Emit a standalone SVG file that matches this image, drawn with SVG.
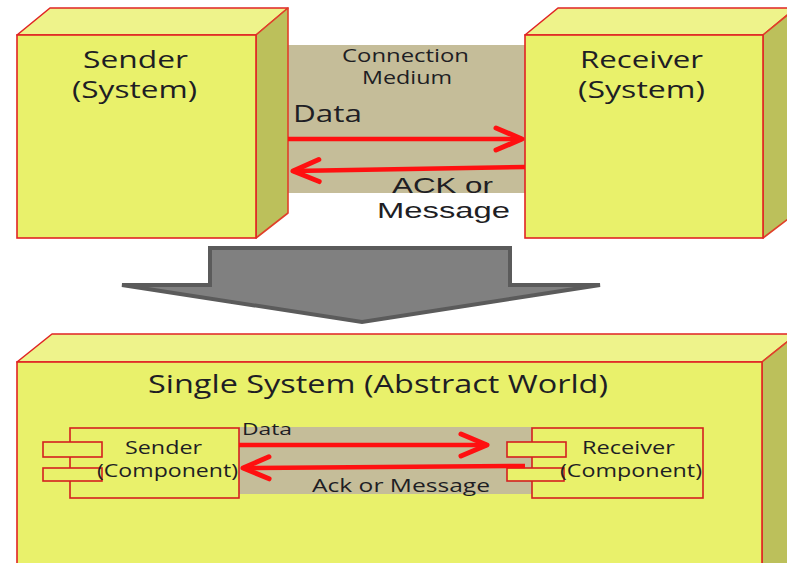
<svg xmlns="http://www.w3.org/2000/svg" width="787" height="563" viewBox="0 0 787 563">
<defs>
<style>
.front{fill:#e9f16b;stroke:#e02424;stroke-width:1.6}
.top{fill:#eef38b;stroke:#e02424;stroke-width:1.6;stroke-linejoin:round}
.side{fill:#bcc05b;stroke:#e0402a;stroke-width:1.6;stroke-linejoin:round}
.medium{fill:#c5bd99}
.comp{fill:#e9f16b;stroke:#d42020;stroke-width:1.6}
.t{font-family:"Open Sans","Noto Sans","Liberation Sans",sans-serif;fill:#1e1e24;text-anchor:middle}
.tl{font-family:"Liberation Sans","Open Sans",sans-serif;fill:#1e1e24;text-anchor:middle}
.link{stroke:#ff1010;stroke-width:4.5;fill:none}
.big{fill:#808080;stroke:#5b5b5b;stroke-width:4;stroke-linejoin:miter}
</style>
<marker id="head" markerUnits="userSpaceOnUse" viewBox="-30 -14 34 28" markerWidth="34" markerHeight="28" refX="0" refY="0" orient="auto" overflow="visible">
<path d="M-26,-11 L0,0 L-26,11" fill="none" stroke="#ff1010" stroke-width="5" stroke-linejoin="round" stroke-linecap="round"/>
</marker>
</defs>
<rect width="787" height="563" fill="#ffffff"/>

<g id="medium-top">
<rect class="medium" x="288" y="45" width="237" height="148"/>
<text class="t" x="405.5" y="62" font-size="17.5" textLength="127" lengthAdjust="spacingAndGlyphs">Connection</text>
<text class="t" x="407" y="84" font-size="17.5" textLength="90" lengthAdjust="spacingAndGlyphs">Medium</text>
</g>

<g id="sender-system">
<polygon class="top" points="17,35 50,8 288,8 256,35"/>
<polygon class="side" points="256,35 288,8 288,213 256,238"/>
<rect class="front" x="17" y="35" width="239" height="203"/>
<text class="t" x="135.5" y="68" font-size="24" textLength="105" lengthAdjust="spacingAndGlyphs">Sender</text>
<text class="t" x="134.5" y="98" font-size="24" textLength="125" lengthAdjust="spacingAndGlyphs">(System)</text>
</g>

<g id="receiver-system">
<polygon class="top" points="525,35 558,8 796,8 763,35"/>
<polygon class="side" points="763,35 796,8 796,213 763,238"/>
<rect class="front" x="525" y="35" width="238" height="203"/>
<text class="t" x="641.5" y="68" font-size="24" textLength="123" lengthAdjust="spacingAndGlyphs">Receiver</text>
<text class="t" x="641.5" y="98" font-size="24" textLength="127" lengthAdjust="spacingAndGlyphs">(System)</text>
</g>

<g id="transform-arrow">
<polygon class="big" points="122,285 210,285 210,248 510,248 510,285 600,285 362,322"/>
</g>

<g id="single-system">
<polygon class="top" points="17,362 52,334 797,334 762,362"/>
<polygon class="side" points="762,362 797,334 797,600 762,600"/>
<rect class="front" x="17" y="362" width="745" height="240"/>
<text class="t" x="378" y="393" font-size="26" textLength="460" lengthAdjust="spacingAndGlyphs">Single System (Abstract World)</text>
</g>

<g id="medium-inner">
<rect class="medium" x="239" y="427" width="293" height="67"/>
</g>

<g id="sender-component">
<rect class="comp" x="70" y="428" width="169" height="70"/>
<rect class="comp" x="43" y="442" width="59" height="15"/>
<rect class="comp" x="43" y="468" width="59" height="13"/>
<text class="t" x="163.5" y="454" font-size="17.5" textLength="77" lengthAdjust="spacingAndGlyphs">Sender</text>
<text class="t" x="167.5" y="477" font-size="17.5" textLength="141" lengthAdjust="spacingAndGlyphs">(Component)</text>
</g>

<g id="receiver-component">
<rect class="comp" x="532" y="428" width="171" height="70"/>
<rect class="comp" x="507" y="442" width="59" height="15"/>
<rect class="comp" x="507" y="468" width="57" height="13"/>
<text class="t" x="628.5" y="454" font-size="17.5" textLength="93" lengthAdjust="spacingAndGlyphs">Receiver</text>
<text class="t" x="631" y="477" font-size="17.5" textLength="142" lengthAdjust="spacingAndGlyphs">(Component)</text>
</g>

<g id="connectors">
<line class="link" x1="288" y1="139" x2="522" y2="139" marker-end="url(#head)"/>
<line class="link" x1="525" y1="167" x2="293" y2="171" marker-end="url(#head)"/>
<line class="link" x1="239" y1="445" x2="487" y2="445" marker-end="url(#head)"/>
<line class="link" x1="525" y1="466" x2="243" y2="468" marker-end="url(#head)"/>
</g>

<g id="labels">
<text class="t" x="327.5" y="122" font-size="23" textLength="69" lengthAdjust="spacingAndGlyphs">Data</text>
<text class="tl" x="442.5" y="193" font-size="22" textLength="101" lengthAdjust="spacingAndGlyphs">ACK or</text>
<text class="tl" x="443.5" y="218" font-size="22" textLength="133" lengthAdjust="spacingAndGlyphs">Message</text>
<text class="t" x="267" y="435" font-size="16" textLength="50" lengthAdjust="spacingAndGlyphs">Data</text>
<text class="t" x="401" y="492" font-size="18.5" textLength="178" lengthAdjust="spacingAndGlyphs">Ack or Message</text>
</g>
</svg>
